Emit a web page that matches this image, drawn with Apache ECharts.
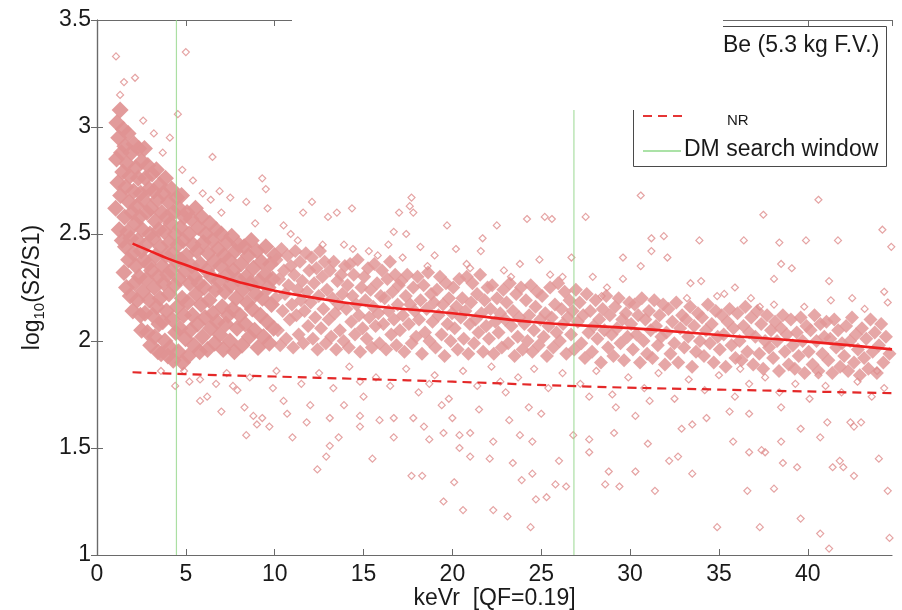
<!DOCTYPE html>
<html>
<head>
<meta charset="utf-8">
<script src="https://cdn.jsdelivr.net/npm/echarts@6/dist/echarts.min.js"></script>
<style>html,body{margin:0;padding:0;background:#fff}#c{width:902px;height:610px}</style>
</head>
<body>
<div id="c"></div>
<script>
// ---- data ----
var xRange = [0, 44.74];
var yRange = [1, 3.5];
var dmWindow = [4.47, 26.84];

// dense core of the AmBe cloud, low energies
var coreLow = [
[1.05,2.62],[1.1,2.85],[1.12,3.02],[1.18,2.74],[1.22,2.95],[1.25,2.52],[1.3,3.08],[1.33,2.68],[1.38,2.88],[1.42,2.47],[1.45,2.79],[1.48,2.99],
[1.52,2.32],[1.55,2.58],[1.57,2.91],[1.6,2.44],[1.62,2.72],[1.66,2.25],[1.68,2.83],[1.72,2.51],[1.75,2.97],[1.78,2.38],[1.8,2.65],[1.84,2.77],[1.87,2.21],[1.9,2.48],[1.93,2.88],[1.97,2.6],
[2.02,2.14],[2.04,2.41],[2.06,2.7],[2.09,2.92],[2.12,2.27],[2.15,2.55],[2.18,2.81],[2.2,2.35],[2.23,2.63],[2.26,2.19],[2.29,2.47],[2.32,2.76],[2.35,2.9],[2.38,2.3],[2.41,2.58],[2.44,2.12],[2.46,2.69],[2.49,2.42],
[2.51,2.05],[2.53,2.84],[2.56,2.52],[2.58,2.23],[2.61,2.66],[2.64,2.38],[2.67,2.9],[2.7,2.13],[2.72,2.76],[2.75,2.45],[2.78,2.29],[2.81,2.6],[2.84,2.04],[2.86,2.82],[2.89,2.36],[2.92,2.71],[2.95,2.19],[2.98,2.5],
[3.02,1.98],[3.04,2.62],[3.07,2.33],[3.1,2.78],[3.13,2.12],[3.16,2.48],[3.19,2.7],[3.22,2.25],[3.25,2.02],[3.28,2.56],[3.31,2.4],[3.34,2.8],[3.37,2.16],[3.4,2.66],[3.43,1.95],[3.45,2.3],[3.48,2.52],[3.49,2.08],
[3.52,2.73],[3.55,2.2],[3.58,2.44],[3.61,1.94],[3.64,2.6],[3.67,2.35],[3.7,2.09],[3.73,2.69],[3.76,2.27],[3.79,2.51],[3.82,2.0],[3.85,2.76],[3.88,2.4],[3.91,2.14],[3.94,2.58],[3.97,2.31],[3.99,1.93],
[4.02,2.65],[4.05,2.22],[4.08,2.46],[4.11,1.97],[4.14,2.55],[4.17,2.33],[4.2,2.71],[4.23,2.1],[4.26,2.41],[4.29,1.91],[4.32,2.6],[4.36,2.26],[4.4,2.5],[4.43,2.04],[4.46,2.37],[4.49,2.67],
[4.52,2.16],[4.55,2.45],[4.58,1.95],[4.61,2.62],[4.64,2.29],[4.67,2.06],[4.7,2.53],[4.73,2.38],[4.76,2.68],[4.79,2.2],[4.82,1.9],[4.85,2.47],[4.88,2.12],[4.91,2.58],[4.94,2.33],[4.98,2.01],
[5.03,2.4],[5.07,2.6],[5.1,2.18],[5.14,1.93],[5.18,2.5],[5.22,2.27],[5.26,2.05],[5.3,2.57],[5.34,2.35],[5.38,2.12],[5.42,2.45],[5.46,1.98],[5.5,2.3],[5.54,2.62],[5.58,2.22],
[5.62,2.42],[5.66,2.08],[5.7,2.53],[5.74,2.27],[5.78,1.95],[5.82,2.36],[5.86,2.17],[5.9,2.58],[5.94,2.02],[5.98,2.46],[6.03,2.25],[6.08,2.11],[6.12,2.5],[6.17,2.33],
[6.22,1.96],[6.26,2.41],[6.31,2.19],[6.35,2.55],[6.4,2.06],[6.44,2.3],[6.49,2.47],[6.53,2.13],[6.58,2.37],[6.62,1.99],[6.67,2.24],[6.71,2.52],[6.76,2.09],
[6.82,2.43],[6.86,2.28],[6.91,2.03],[6.96,2.35],[7.0,2.5],[7.05,2.16],[7.1,1.96],[7.15,2.4],[7.2,2.23],[7.25,2.08],[7.3,2.46],[7.34,2.31],[7.38,2.12],
[7.43,2.38],[7.48,2.0],[7.53,2.26],[7.58,2.49],[7.63,2.15],[7.68,2.33],[7.73,1.95],[7.78,2.42],[7.83,2.2],[7.88,2.06],[7.93,2.29],[7.98,2.45],
[8.04,2.12],[8.1,2.36],[8.16,1.98],[8.22,2.24],[8.28,2.44],[8.34,2.08],[8.4,2.3],[8.46,2.18],[8.52,2.4],[8.58,2.02],[8.63,2.27],[8.68,2.47],
[8.74,2.15],[8.8,2.34],[8.87,2.05],[8.93,2.22],[9.0,2.42],[9.06,1.97],[9.12,2.28],[9.19,2.12],[9.25,2.37],[9.31,2.2],[9.37,2.02],
[9.44,2.31],[9.5,2.44],[9.57,2.09],[9.63,2.25],[9.7,1.99],[9.76,2.36],[9.82,2.17],[9.88,2.29],[9.94,2.06],[9.99,2.4]
];

// band of the AmBe cloud, higher energies
var coreHigh = [
[10.05,2.2],[10.1,2.38],[10.18,2.05],[10.25,2.29],[10.31,1.98],[10.38,2.43],[10.45,2.14],[10.52,2.33],[10.58,2.22],[10.65,2.01],[10.72,2.4],[10.78,2.26],[10.85,2.1],[10.91,2.35],[10.97,2.17],
[11.04,1.97],[11.1,2.31],[11.16,2.42],[11.22,2.12],[11.29,2.24],[11.35,2.03],[11.42,2.37],[11.48,2.19],[11.55,2.28],[11.61,1.99],[11.68,2.14],[11.75,2.41],[11.82,2.23],[11.88,2.07],[11.95,2.33],
[12.03,2.18],[12.09,2.39],[12.15,2.01],[12.22,2.27],[12.28,2.11],[12.35,2.34],[12.41,1.96],[12.48,2.21],[12.55,2.42],[12.61,2.06],[12.68,2.3],[12.74,2.15],[12.81,2.37],[12.88,1.99],[12.94,2.24],
[13.04,2.1],[13.11,2.33],[13.18,2.02],[13.25,2.2],[13.32,2.37],[13.39,2.13],[13.46,1.96],[13.53,2.28],[13.6,2.17],[13.67,2.05],[13.74,2.31],[13.81,2.22],[13.88,2.0],[13.95,2.35],
[14.03,2.15],[14.1,2.26],[14.17,1.97],[14.24,2.36],[14.31,2.09],[14.38,2.21],[14.45,2.31],[14.52,2.03],[14.6,2.17],[14.67,2.38],[14.74,2.12],[14.81,1.95],[14.88,2.25],[14.95,2.06],
[15.04,2.3],[15.11,2.19],[15.18,2.01],[15.25,2.34],[15.32,2.11],[15.4,2.24],[15.47,1.97],[15.54,2.16],[15.61,2.36],[15.68,2.07],[15.76,2.27],[15.83,2.13],[15.9,1.99],[15.97,2.21],
[16.04,2.33],[16.12,2.08],[16.19,2.2],[16.27,1.96],[16.34,2.29],[16.41,2.14],[16.49,2.37],[16.56,2.03],[16.63,2.23],[16.71,2.1],[16.78,2.31],[16.85,1.98],[16.92,2.17],[16.98,2.26],
[17.05,2.05],[17.13,2.28],[17.21,2.12],[17.3,1.95],[17.38,2.21],[17.46,2.31],[17.55,2.08],[17.63,2.17],[17.71,1.99],[17.8,2.25],[17.88,2.14],[17.96,2.02],
[18.04,2.3],[18.12,2.1],[18.21,2.19],[18.29,1.94],[18.38,2.26],[18.46,2.04],[18.55,2.15],[18.63,2.32],[18.71,2.0],[18.8,2.22],[18.88,2.09],[18.96,2.18],
[19.05,1.97],[19.13,2.24],[19.22,2.12],[19.3,2.3],[19.39,2.03],[19.47,2.17],[19.56,1.93],[19.64,2.27],[19.73,2.08],[19.81,2.2],[19.9,2.0],[19.98,2.13],
[20.05,2.25],[20.13,2.06],[20.22,2.16],[20.3,1.96],[20.39,2.29],[20.47,2.11],[20.56,2.2],[20.64,2.01],[20.73,2.14],[20.81,2.3],[20.9,1.94],[20.98,2.08],
[21.05,2.18],[21.13,2.27],[21.22,1.99],[21.3,2.1],[21.39,2.22],[21.47,2.04],[21.56,2.31],[21.64,2.13],[21.73,1.95],[21.81,2.19],[21.9,2.07],[21.98,2.25],
[22.06,2.01],[22.15,2.15],[22.24,2.26],[22.33,1.94],[22.42,2.09],[22.51,2.2],[22.6,2.04],[22.69,2.13],[22.78,1.97],[22.87,2.24],[22.96,2.1],
[23.05,2.18],[23.14,1.99],[23.23,2.27],[23.32,2.07],[23.41,2.14],[23.5,1.93],[23.59,2.22],[23.68,2.02],[23.77,2.11],[23.86,2.25],[23.95,1.96],
[24.05,2.08],[24.14,2.19],[24.23,2.0],[24.32,2.12],[24.41,2.26],[24.5,1.95],[24.59,2.05],[24.68,2.16],[24.77,2.23],[24.86,1.98],[24.95,2.1],
[25.05,2.21],[25.14,2.02],[25.23,2.13],[25.32,1.93],[25.41,2.07],[25.5,2.25],[25.59,2.11],[25.68,1.97],[25.77,2.17],[25.86,2.04],[25.95,2.27],
[26.05,2.0],[26.14,2.15],[26.23,2.08],[26.32,2.23],[26.41,1.94],[26.5,2.11],[26.59,2.19],[26.68,2.03],[26.77,2.14],[26.86,1.96],[26.95,2.24],
[27.06,2.09],[27.16,2.18],[27.26,1.99],[27.36,2.12],[27.46,1.92],[27.56,2.22],[27.66,2.04],[27.76,2.14],[27.86,1.95],[27.96,2.07],
[28.06,2.19],[28.16,2.01],[28.26,2.1],[28.36,1.9],[28.46,2.15],[28.56,2.05],[28.66,2.21],[28.76,1.97],[28.86,2.12],[28.96,2.03],
[29.06,1.93],[29.16,2.16],[29.26,2.06],[29.36,2.2],[29.46,1.99],[29.56,2.1],[29.66,1.91],[29.76,2.13],[29.86,2.02],[29.96,2.18],
[30.06,2.08],[30.16,1.96],[30.26,2.17],[30.36,2.03],[30.46,2.12],[30.56,1.9],[30.66,2.2],[30.76,2.0],[30.86,2.1],[30.96,1.94],
[31.06,2.14],[31.16,2.05],[31.26,1.92],[31.36,2.19],[31.46,2.07],[31.56,1.98],[31.66,2.12],[31.76,2.02],[31.86,2.17],[31.96,1.89],
[32.05,2.04],[32.16,2.15],[32.27,1.94],[32.38,2.09],[32.49,1.99],[32.6,2.18],[32.71,1.9],[32.82,2.06],[32.93,2.12],
[33.05,1.97],[33.16,2.1],[33.27,2.02],[33.38,2.16],[33.49,1.88],[33.6,2.07],[33.71,1.95],[33.82,2.13],[33.93,2.0],
[34.05,2.11],[34.16,1.93],[34.27,2.05],[34.38,2.17],[34.49,1.99],[34.6,2.08],[34.71,1.9],[34.82,2.14],[34.93,2.02],
[35.05,1.96],[35.16,2.12],[35.27,2.03],[35.38,1.88],[35.49,2.09],[35.6,2.15],[35.71,1.98],[35.82,2.06],[35.93,1.92],
[36.05,2.13],[36.16,2.0],[36.27,1.91],[36.38,2.07],[36.49,2.16],[36.6,1.95],[36.71,2.04],[36.82,2.11],[36.93,1.89],
[37.05,2.02],[37.16,2.14],[37.27,1.94],[37.38,2.08],[37.49,1.87],[37.6,2.0],[37.71,2.12],[37.82,1.97],[37.93,2.05],
[38.05,1.92],[38.16,2.09],[38.27,2.0],[38.38,1.86],[38.49,2.06],[38.6,2.12],[38.71,1.95],[38.82,2.03],[38.93,1.89],
[39.05,2.1],[39.16,1.98],[39.27,1.87],[39.38,2.04],[39.49,1.93],[39.6,2.11],[39.71,2.0],[39.82,1.85],[39.93,2.07],
[40.05,1.95],[40.16,2.05],[40.27,1.89],[40.38,2.12],[40.49,2.0],[40.6,1.86],[40.71,2.08],[40.82,1.94],[40.93,2.02],
[41.05,2.09],[41.16,1.91],[41.27,2.01],[41.38,1.85],[41.49,2.1],[41.6,1.97],[41.71,2.05],[41.82,1.88],[41.93,1.99],
[42.05,1.93],[42.16,2.07],[42.27,1.86],[42.38,2.0],[42.49,2.11],[42.6,1.9],[42.71,2.03],[42.82,1.96],[42.93,1.84],
[43.05,2.06],[43.17,1.92],[43.29,2.01],[43.41,1.87],[43.53,2.1],[43.65,1.95],[43.77,2.04],[43.89,1.85],[44.01,1.98],[44.13,2.08],[44.25,1.9],[44.4,2.02],[44.6,1.94]
];

// isolated events around the cloud
var outliers = [
[1.07,3.33],[1.52,3.21],[2.14,3.23],[5.0,3.35],[4.55,3.06],[4.1,2.95],[3.2,2.97],[6.5,2.86],[9.3,2.76],[9.5,2.71],[5.95,2.69],[7.5,2.67],[8.4,2.65],[9.6,2.62],[10.5,2.54],[6.4,2.66],[2.6,3.03],[1.3,3.15],[3.7,2.88],[5.4,2.75],[7.0,2.6],[8.9,2.55],[4.8,2.8],[6.9,2.7],
[12.1,2.65],[11.6,2.6],[13.0,2.58],[13.5,2.6],[14.35,2.62],[17.0,2.6],[17.7,2.67],[17.6,2.63],[17.8,2.6],[19.7,2.54],[22.5,2.54],[21.7,2.48],[21.6,2.42],[20.2,2.43],[24.2,2.57],[25.2,2.58],[25.6,2.57],[27.5,2.58],[24.9,2.38],[26.7,2.39],[26.2,2.3],[16.7,2.51],[17.4,2.5],[16.4,2.45],[14.4,2.43],[12.7,2.45],[11.3,2.47],[17.2,2.39],[18.6,2.35],[15.3,2.42],[19.0,2.4],[20.8,2.36],[22.9,2.33],[23.8,2.36],[25.5,2.31],[13.9,2.45],[10.9,2.5],[15.8,2.4],[18.2,2.44],[21.0,2.34],[23.3,2.3],
[30.6,2.68],[40.6,2.66],[37.5,2.59],[31.2,2.48],[31.9,2.49],[33.9,2.47],[36.4,2.47],[38.4,2.46],[39.9,2.47],[41.7,2.47],[44.2,2.52],[44.7,2.44],[29.6,2.39],[31.2,2.42],[32.1,2.39],[30.6,2.35],[38.5,2.36],[39.1,2.34],[38.1,2.29],[41.2,2.28],[33.4,2.27],[34.0,2.28],[44.3,2.23],[44.5,2.18],[29.6,2.29],[28.7,2.25],[28.4,2.21],[33.2,2.2],[34.9,2.21],[35.3,2.22],[37.3,2.16],[38.1,2.17],[41.3,2.19],[27.9,2.3],[35.9,2.25],[42.5,2.2],[43.2,2.15],[39.8,2.16],[36.8,2.2],
[5.8,1.72],[6.2,1.74],[7.0,1.67],[8.4,1.56],[9.0,1.61],[9.3,1.64],[9.7,1.6],[8.3,1.69],[7.65,1.79],[7.9,1.77],[5.8,1.82],[5.2,1.81],[4.4,1.79],[8.8,1.65],[10.5,1.72],[11.0,1.55],[10.7,1.66],[3.6,1.86],[4.9,1.86],[6.7,1.8],[9.9,1.78],[11.5,1.8],[8.6,1.83],[10.1,1.86],[7.3,1.85],
[12.5,1.85],[13.3,1.78],[14.2,1.88],[15.0,1.74],[15.7,1.83],[16.5,1.79],[17.4,1.87],[18.1,1.76],[19.0,1.84],[19.8,1.73],[20.6,1.86],[21.4,1.79],[22.2,1.88],[23.0,1.76],[23.7,1.83],[24.6,1.87],[25.4,1.78],[26.2,1.85],[27.2,1.8],[28.1,1.86],[29.0,1.75],[29.9,1.83],[30.8,1.78],[31.6,1.85],[32.5,1.73],[33.3,1.82],[34.2,1.77],[35.0,1.84],[35.9,1.74],[36.7,1.8],[37.6,1.83],[38.4,1.76],[39.3,1.8],[40.1,1.73],[41.0,1.79],[41.9,1.76],[42.8,1.81],[43.6,1.74],[44.3,1.78],[14.8,1.81],[18.7,1.8],[22.7,1.81],[27.7,1.74],[31.1,1.72],[36.2,1.87],[40.6,1.84],[43.9,1.86],
[12.4,1.40],[13.1,1.51],[14.8,1.60],[15.5,1.45],[16.7,1.55],[17.7,1.37],[18.3,1.37],[18.7,1.54],[18.4,1.6],[19.5,1.57],[20.1,1.34],[20.4,1.5],[21.0,1.46],[22.1,1.45],[22.3,1.53],[23.4,1.43],[23.9,1.35],[24.5,1.38],[24.7,1.26],[25.3,1.27],[25.8,1.33],[26.4,1.32],[24.4,1.13],[22.3,1.21],[23.1,1.18],[20.6,1.21],[19.5,1.25],[27.7,1.48],[28.6,1.33],[28.8,1.39],[29.4,1.32],[30.3,1.39],[31.4,1.30],[32.2,1.44],[32.7,1.46],[33.5,1.38],[34.9,1.13],[36.6,1.30],[37.3,1.13],[38.1,1.31],[38.6,1.43],[39.4,1.41],[39.6,1.17],[40.7,1.10],[41.2,1.03],[42.0,1.41],[42.6,1.37],[44.0,1.45],[44.5,1.30],[44.6,1.08],[41.4,1.41],[36.7,1.48],[37.4,1.49],[35.8,1.53],[36.7,1.66],[35.6,1.67],[34.3,1.64],[32.9,1.59],[31.0,1.52],[30.3,1.65],[29.2,1.69],[29.1,1.57],[27.7,1.54],[26.8,1.56],[26.0,1.44],[24.5,1.53],[23.8,1.56],[25.0,1.66],[24.3,1.69],[23.2,1.63],[21.5,1.68],[21.0,1.57],[20.4,1.56],[20.0,1.64],[19.4,1.7],[17.8,1.64],[16.7,1.64],[15.9,1.63],[14.8,1.65],[13.9,1.7],[13.1,1.64],[12.0,1.7],[38.5,1.69],[39.6,1.59],[41.1,1.62],[42.4,1.62],[43.0,1.62],[42.6,1.6],[40.7,1.55],[41.8,1.44],[38.5,1.53],[37.6,1.48],[33.5,1.61],[11.8,1.62],[13.6,1.55],[12.9,1.46]
];

// NR band mean and 3-sigma lower line
var meanNR = [[2,2.455],[3,2.42],[4,2.385],[5,2.355],[6,2.325],[7,2.3],[8,2.275],[10,2.235],[12,2.205],[15,2.168],[18,2.145],[20,2.13],[25,2.085],[30,2.06],[35,2.028],[40,1.997],[44.74,1.961]];
var lowNR = [[2,1.854],[5,1.845],[10,1.834],[15,1.822],[20,1.81],[27.7,1.787],[35,1.773],[44.74,1.756]];

var FONT = '"Liberation Sans", Arial, Helvetica, sans-serif';
var chart = echarts.init(document.getElementById('c'), null, {renderer: 'canvas'});

function axisCommon() {
  return {
    axisLine: {show: true, lineStyle: {color: '#6a6a6a', width: 1.2}},
    axisTick: {show: true, inside: true, length: 6, lineStyle: {color: '#6a6a6a'}},
    splitLine: {show: false}
  };
}

var xMain = Object.assign(axisCommon(), {
  type: 'value', position: 'bottom', min: xRange[0], max: xRange[1], interval: 5,
  axisLabel: {fontSize: 23, color: '#1a1a1a', fontFamily: FONT, margin: 8, showMaxLabel: false},
  name: 'keVr  [QF=0.19]', nameLocation: 'middle', nameGap: 32, nameMoveOverlap: false,
  nameTextStyle: {fontSize: 23, color: '#1a1a1a', fontFamily: FONT}
});
var xTop = Object.assign(axisCommon(), {
  type: 'value', position: 'top', min: xRange[0], max: xRange[1], interval: 5,
  axisLabel: {show: false}
});

var yMain = Object.assign(axisCommon(), {
  type: 'value', position: 'left', min: yRange[0], max: yRange[1], interval: 0.5,
  axisLabel: {fontSize: 23, color: '#1a1a1a', fontFamily: FONT, margin: 6},
  name: '{a|log}{s|10}{a|(S2/S1)}', nameLocation: 'middle', nameGap: 50,
  nameTextStyle: {color: '#1a1a1a', fontFamily: FONT, rich: {
    a: {fontSize: 23, color: '#1a1a1a', fontFamily: FONT},
    s: {fontSize: 15, color: '#1a1a1a', fontFamily: FONT, padding: [14, 0, 0, 0]}
  }}
});
var yRight = Object.assign(axisCommon(), {
  type: 'value', position: 'right', min: yRange[0], max: yRange[1], interval: 0.5,
  axisLabel: {show: false}
});

var series = [
  {
    name: 'AmBe core low', type: 'scatter', data: coreLow, symbol: 'diamond', symbolSize: 17,
    itemStyle: {color: 'rgb(223,146,146)', opacity: 0.92},
    silent: true, z: 2
  },
  {
    name: 'AmBe core high', type: 'scatter', data: coreHigh, symbol: 'diamond', symbolSize: 14,
    itemStyle: {color: 'rgb(226,152,152)', opacity: 0.85},
    silent: true, z: 2
  },
  {
    name: 'AmBe outliers', type: 'scatter', data: outliers, symbol: 'diamond', symbolSize: 7,
    itemStyle: {color: 'rgba(255,255,255,0)', borderColor: 'rgb(222,140,140)', borderWidth: 1.2},
    silent: true, z: 3
  }
];
dmWindow.forEach(function (xv) {
  series.push({
    name: 'DM search window', type: 'line', data: [[xv, yRange[0]], [xv, yRange[1]]],
    showSymbol: false, silent: true, z: 4,
    lineStyle: {color: 'rgba(150,215,140,0.8)', width: 1.2}
  });
});
series.push({
  name: 'mu NR', type: 'line', data: meanNR, smooth: true, showSymbol: false, silent: true, z: 5,
  lineStyle: {color: '#ee1f1f', width: 2.6}
});
series.push({
  name: '3 sigma NR', type: 'line', data: lowNR, smooth: true, showSymbol: false, silent: true, z: 5,
  lineStyle: {color: '#e42828', width: 2.2, type: [9, 6]}
});

chart.setOption({
  backgroundColor: '#ffffff',
  animation: false,
  grid: {left: 97, right: 10, top: 20, bottom: 55, containLabel: false, outerBoundsMode: 'none'},
  xAxis: [xMain, xTop],
  yAxis: [yMain, yRight],
  series: series,
  graphic: [
    {type: 'rect', z: 50, shape: {x: 633.5, y: 26.5, width: 253, height: 140},
     style: {fill: '#ffffff', stroke: '#4a4a4a', lineWidth: 1}},
    {type: 'text', z: 51, left: 723, top: 34,
     style: {text: 'Be (5.3 kg F.V.)', fontSize: 23, fontFamily: FONT, fill: '#1a1a1a'}},
    {type: 'line', z: 51, shape: {x1: 643, y1: 116, x2: 683, y2: 116},
     style: {stroke: '#e53535', lineWidth: 2, lineDash: [9, 6]}},
    {type: 'text', z: 51, left: 727, top: 113,
     style: {text: 'NR', fontSize: 15, fontFamily: FONT, fill: '#1a1a1a'}},
    {type: 'line', z: 51, shape: {x1: 643, y1: 151, x2: 681, y2: 151},
     style: {stroke: '#8fd88a', lineWidth: 1.5}},
    {type: 'text', z: 51, left: 684, top: 138,
     style: {text: 'DM search window', fontSize: 23, fontFamily: FONT, fill: '#1a1a1a'}},
    {type: 'rect', z: 60, shape: {x: 292, y: 0, width: 431, height: 110},
     style: {fill: '#ffffff'}}
  ]
});
</script>
</body>
</html>
